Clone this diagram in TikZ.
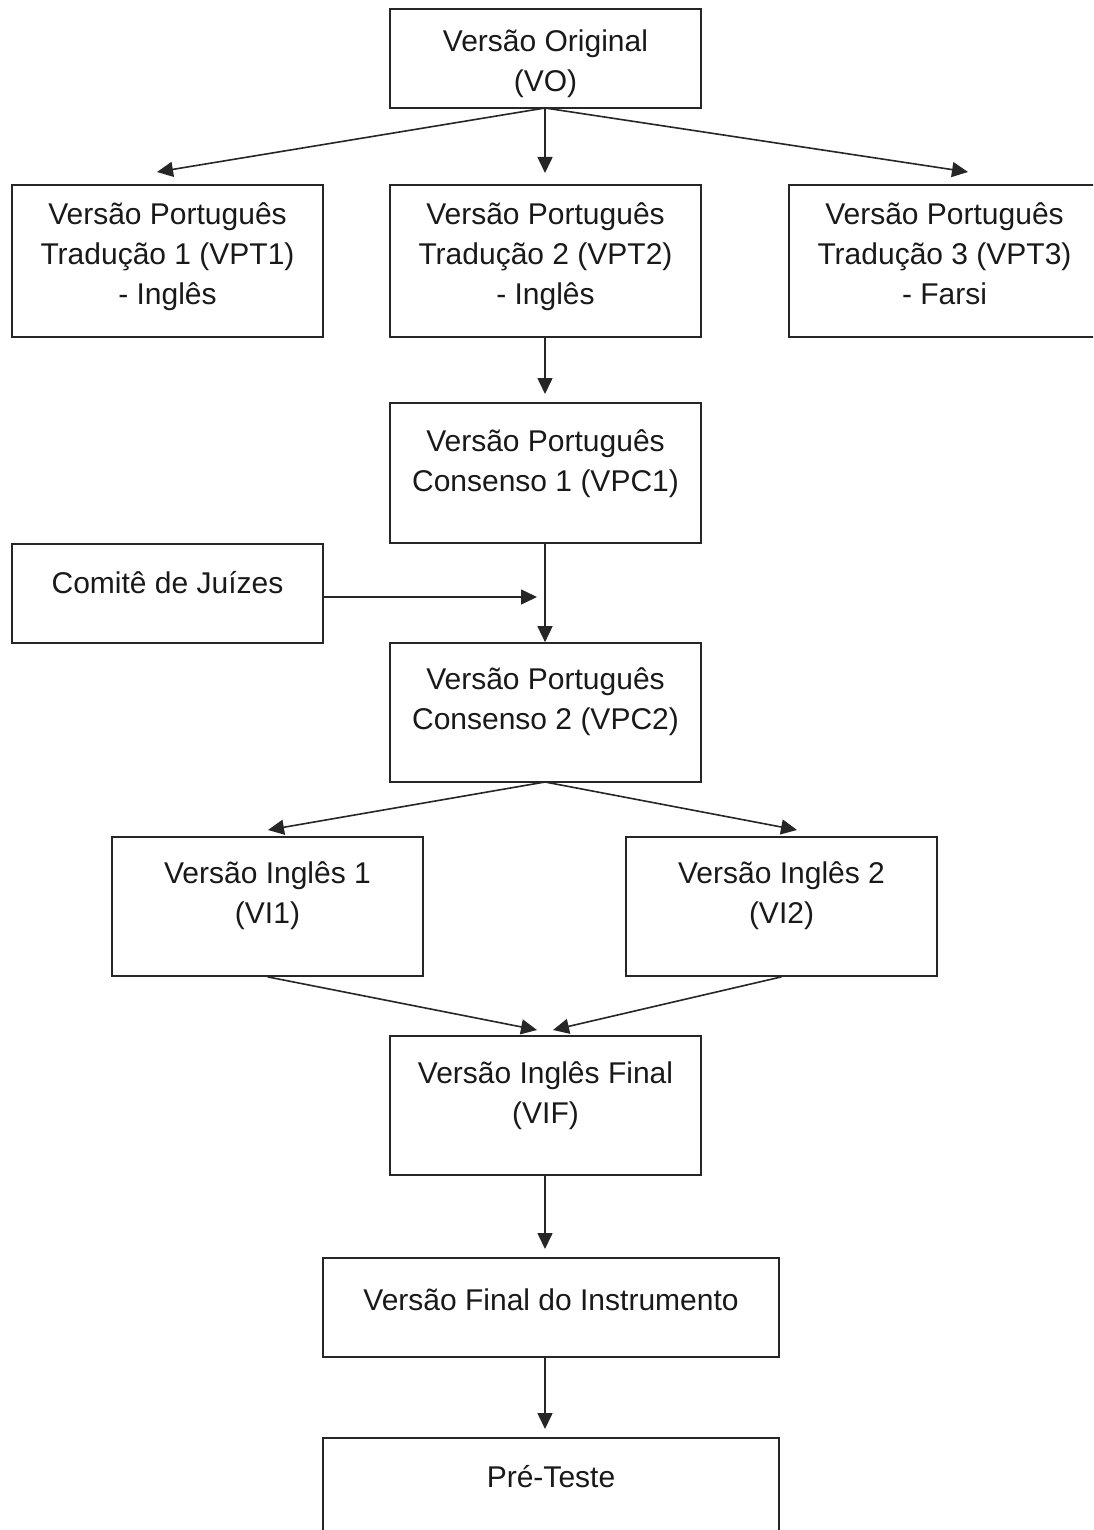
\documentclass[tikz,border=0pt]{standalone}
\usepackage{fontspec}
\setmainfont{Liberation Sans}
\usetikzlibrary{arrows.meta,calc}
\begin{document}
\begin{tikzpicture}[x=1pt,y=-1pt,
  box/.style={draw=black!85,line width=1.7pt,rectangle,inner sep=0pt},
  txt/.style={align=center,inner sep=0pt,anchor=north,text=black!90,
    font=\fontsize{30}{40}\selectfont,
    execute at begin node={\rule{0pt}{25pt}}},
  arr/.style={draw=black!85,line width=1.6pt,-{Triangle[length=16pt,width=15pt]}}]
\useasboundingbox (0,0) rectangle (1093,1530);
\clip (0,0) rectangle (1093,1530);
\node[box,minimum width=311,minimum height=99] (vo) at (545.5,58.5) {};
\node[txt] (tvo) at (545.5,30) {Versão Original\\(VO)};
\node[box,minimum width=311,minimum height=152] (vpt1) at (167.5,261) {};
\node[txt] (tvpt1) at (167.5,202) {Versão Português\\Tradução 1 (VPT1)\\- Inglês};
\node[box,minimum width=311,minimum height=152] (vpt2) at (545.5,261) {};
\node[txt] (tvpt2) at (545.5,202) {Versão Português\\Tradução 2 (VPT2)\\- Inglês};
\node[box,minimum width=311,minimum height=152] (vpt3) at (944.5,261) {};
\node[txt] (tvpt3) at (944.5,202) {Versão Português\\Tradução 3 (VPT3)\\- Farsi};
\node[box,minimum width=311,minimum height=140] (vpc1) at (545.5,473) {};
\node[txt] (tvpc1) at (545.5,429) {Versão Português\\Consenso 1 (VPC1)};
\node[box,minimum width=311,minimum height=99] (com) at (167.5,593.5) {};
\node[txt] (tcom) at (167.5,568) {Comitê de Juízes};
\node[box,minimum width=311,minimum height=139] (vpc2) at (545.5,712.5) {};
\node[txt] (tvpc2) at (545.5,667) {Versão Português\\Consenso 2 (VPC2)};
\node[box,minimum width=311,minimum height=139] (vi1) at (267.5,906.5) {};
\node[txt] (tvi1) at (267.5,861) {Versão Inglês 1\\(VI1)};
\node[box,minimum width=311,minimum height=139] (vi2) at (781.5,906.5) {};
\node[txt] (tvi2) at (781.5,861) {Versão Inglês 2\\(VI2)};
\node[box,minimum width=311,minimum height=139] (vif) at (545.5,1105.5) {};
\node[txt] (tvif) at (545.5,1061) {Versão Inglês Final\\(VIF)};
\node[box,minimum width=456,minimum height=99] (vfi) at (551,1307.5) {};
\node[txt] (tvfi) at (551,1285) {Versão Final do Instrumento};
\node[box,minimum width=456,minimum height=110] (pt) at (551,1493) {};
\node[txt] (tpt) at (551,1462) {Pré-Teste};
% free ends
\coordinate (e1) at (157,172);
\coordinate (e2) at (545,173);
\coordinate (e3) at (968,172);
\coordinate (e4) at (545,394);
\coordinate (e5) at (537,597);
\coordinate (e6) at (268,830);
\coordinate (e7) at (797,830);
\coordinate (e8) at (537,1030);
\coordinate (e9) at (553,1030);
\coordinate (e10) at (545,1249);
\coordinate (e11) at (545,1429);
\coordinate (s1) at (545,108);
\coordinate (s2) at (545,782);
\draw[arr] (s1) -- (e1);
\draw[arr] (s1) -- (e2);
\draw[arr] (s1) -- (e3);
\draw[arr] (vpt2.south -| e4) -- (e4);
\draw[arr] (vpc1.south -| e4) -- (vpc2.north -| e4);
\draw[arr] (com.east |- e5) -- (e5);
\draw[arr] (s2) -- (e6);
\draw[arr] (s2) -- (e7);
\draw[arr] (vi1.south) -- (e8);
\draw[arr] (vi2.south) -- (e9);
\draw[arr] (vif.south -| e10) -- (e10);
\draw[arr] (vfi.south -| e11) -- (e11);
\end{tikzpicture}
\end{document}
